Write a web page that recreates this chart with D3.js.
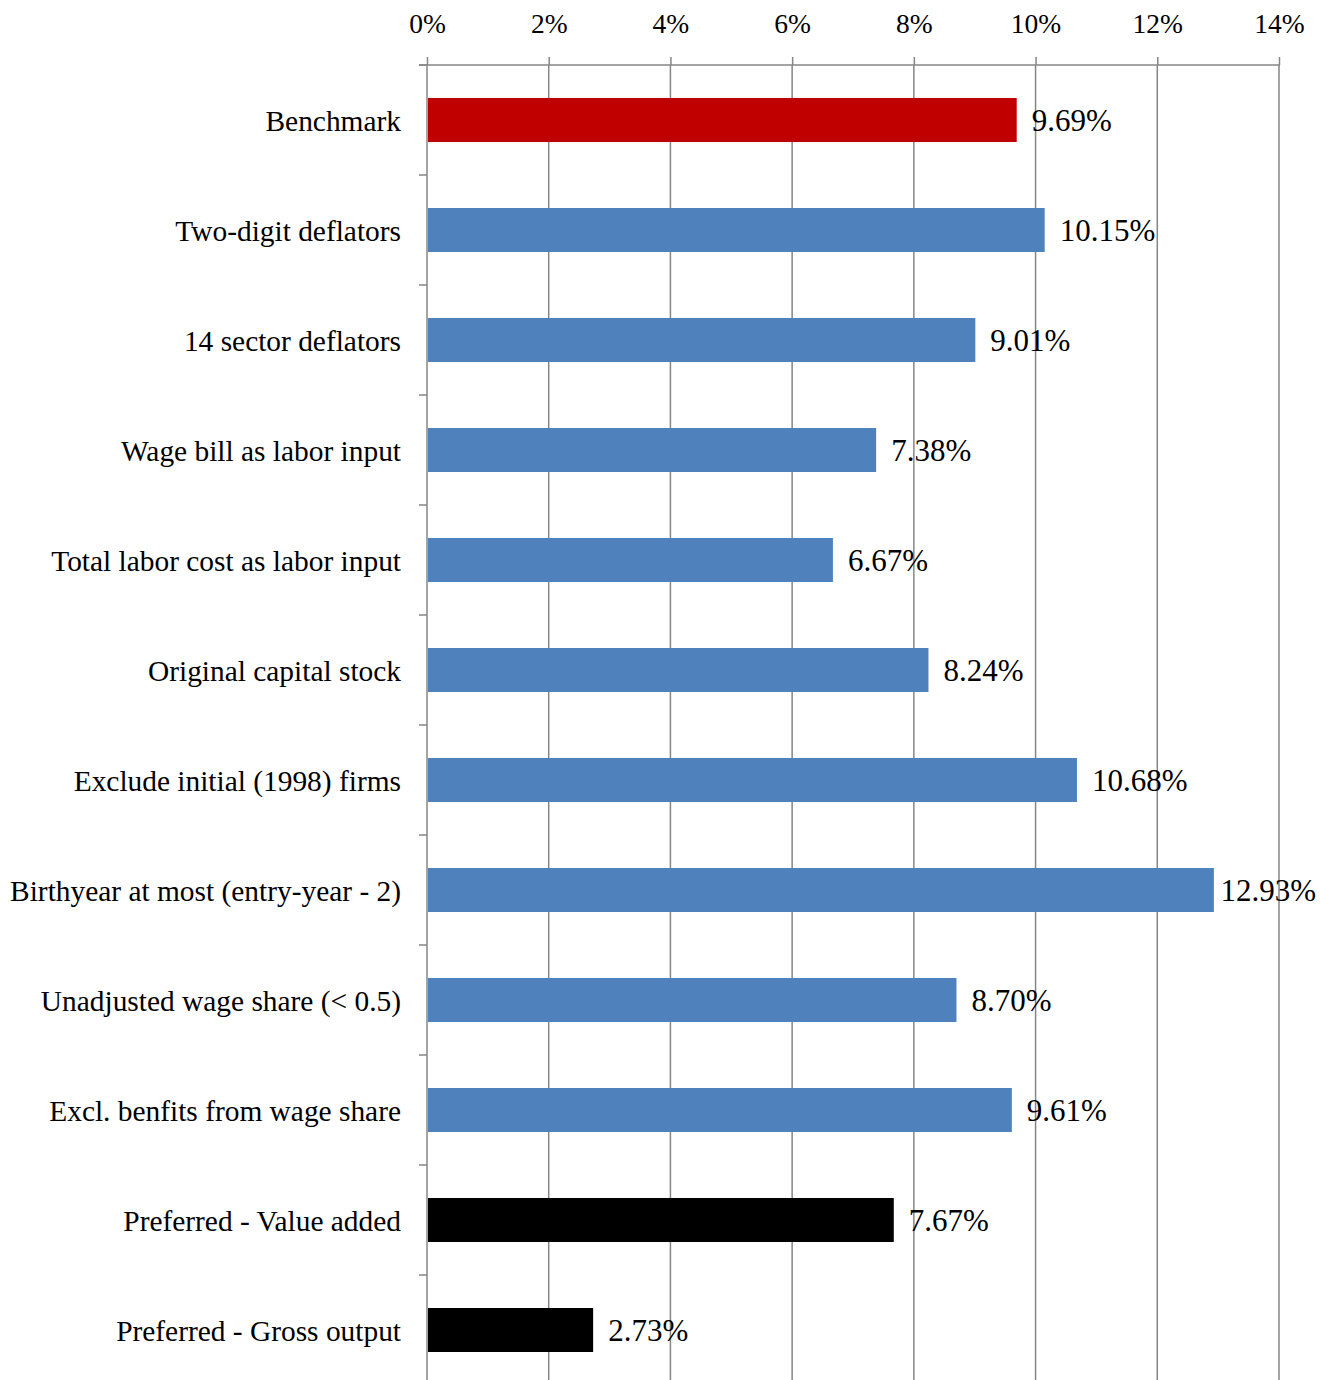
<!DOCTYPE html>
<html>
<head>
<meta charset="utf-8">
<script src="https://cdn.jsdelivr.net/npm/d3@7"></script>
<style>
  html, body { margin: 0; padding: 0; background: #fff; }
  svg { display: block; }
  text { font-family: "Liberation Serif", "Times New Roman", serif; fill: #000; }
</style>
</head>
<body>
<svg id="chart" width="1320" height="1380"></svg>
<script>
// Robustness checks: productivity estimates under alternative specifications
const categories = [
  "Benchmark",
  "Two-digit deflators",
  "14 sector deflators",
  "Wage bill as labor input",
  "Total labor cost as labor input",
  "Original capital stock",
  "Exclude initial (1998) firms",
  "Birthyear at most (entry-year - 2)",
  "Unadjusted wage share (< 0.5)",
  "Excl. benfits from wage share",
  "Preferred - Value added",
  "Preferred - Gross output"
];
const values = [9.69, 10.15, 9.01, 7.38, 6.67, 8.24, 10.68, 12.93, 8.70, 9.61, 7.67, 2.73];
const groups = ["benchmark", "alt", "alt", "alt", "alt", "alt", "alt", "alt", "alt", "alt", "preferred", "preferred"];
const tickValues = [0, 2, 4, 6, 8, 10, 12, 14];

const colors = { benchmark: "#C00000", alt: "#4F81BD", preferred: "#000000" };
const gridColor = "#868686";

const svg = d3.select("#chart");
const width = 1320;
const plotLeft = 427, plotRight = 1279, plotTop = 65, plotBottom = 1385;

const x = d3.scaleLinear().domain([0, 14]).range([plotLeft, plotRight]);
const y = d3.scaleBand().domain(categories).range([plotTop, plotBottom]).paddingInner(0.6).paddingOuter(0.3);

// vertical gridlines
svg.append("g")
  .selectAll("line")
  .data(tickValues.slice(1))
  .join("line")
  .attr("x1", d => x(d)).attr("x2", d => x(d))
  .attr("y1", plotTop).attr("y2", plotBottom)
  .attr("stroke", gridColor).attr("stroke-width", 1.5);

// top axis
const xAxis = svg.append("g")
  .attr("transform", `translate(0,${plotTop})`)
  .call(d3.axisTop(x).tickValues(tickValues).tickFormat(d => d + "%").tickSize(8).tickPadding(24).tickSizeOuter(0));
xAxis.select(".domain").attr("stroke", gridColor).attr("stroke-width", 1.5)
  .attr("d", `M${plotLeft - 8},0H${plotRight + 1}`);
xAxis.selectAll(".tick line").attr("stroke", gridColor).attr("stroke-width", 1.5);
xAxis.selectAll(".tick text").attr("font-size", 27.5).attr("font-family", "Liberation Serif, serif").attr("fill", "#000");

// bars
svg.append("g")
  .selectAll("rect")
  .data(values)
  .join("rect")
  .attr("x", x(0) + 1)
  .attr("y", (d, i) => y(categories[i]))
  .attr("width", d => x(d) - x(0) - 1)
  .attr("height", y.bandwidth())
  .attr("fill", (d, i) => colors[groups[i]]);

// left axis line and category boundary ticks
const boundaries = d3.range(categories.length + 1).map(i => plotTop + i * y.step());
svg.append("line")
  .attr("x1", plotLeft).attr("x2", plotLeft).attr("y1", plotTop).attr("y2", plotBottom)
  .attr("stroke", gridColor).attr("stroke-width", 1.5);
svg.append("g").selectAll("line")
  .data(boundaries)
  .join("line")
  .attr("x1", plotLeft - 8).attr("x2", plotLeft)
  .attr("y1", d => d).attr("y2", d => d)
  .attr("stroke", gridColor).attr("stroke-width", 1.5);

// category labels
svg.append("g").selectAll("text")
  .data(categories)
  .join("text")
  .attr("x", 401)
  .attr("y", d => y(d) + y.bandwidth() / 2)
  .attr("dy", "0.37em")
  .attr("text-anchor", "end")
  .attr("font-size", 29.4)
  .text(d => d);

// value labels, pulled left when they would run past the right edge
svg.append("g").selectAll("text")
  .data(values)
  .join("text")
  .attr("y", (d, i) => y(categories[i]) + y.bandwidth() / 2)
  .attr("dy", "0.37em")
  .attr("font-size", 31)
  .text(d => d.toFixed(2) + "%")
  .attr("x", function (d) {
    const w = this.getComputedTextLength();
    return Math.min(x(d) + 15, width - 4 - w);
  });
</script>
</body>
</html>
